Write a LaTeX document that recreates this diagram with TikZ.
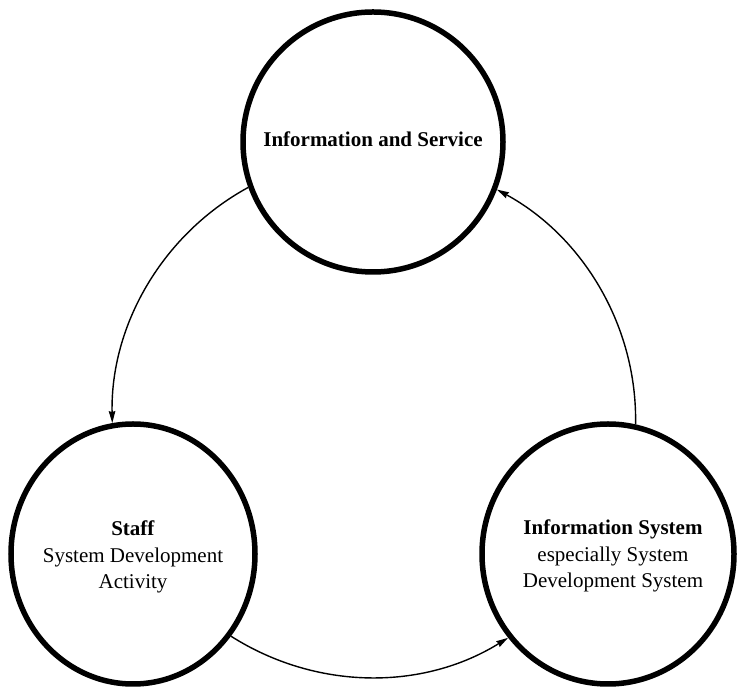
\documentclass[tikz,border=0pt]{standalone}
\usepackage{fontspec}
\setmainfont{Liberation Serif}
\usetikzlibrary{arrows.meta,shapes.geometric}
\begin{document}
\begin{tikzpicture}[x=1pt,y=1pt,
  ring/.style={draw=black, line width=5.5pt, ellipse, inner sep=0pt},
  caption/.style={align=center, font=\fontsize{21}{26.5}\selectfont, inner sep=0pt},
  flow/.style={draw=black, line width=1.4pt, -{Stealth[length=12pt,width=6.5pt,inset=1pt]}},
]
\useasboundingbox (0,0) rectangle (739,690);

% the three entities
\node[ring, minimum width=260pt, minimum height=260pt] (info) at (373,548) {};
\node[ring, minimum width=244pt, minimum height=260pt] (staff) at (133,136) {};
\node[ring, minimum width=252pt, minimum height=260pt] (system) at (608,136) {};

% their captions
\node[caption, anchor=base] (info-label) at (373,543) {\bfseries Information and Service};
\node[caption] (staff-label) at (133,133) {\textbf{Staff}\\System Development\\Activity};
\node[caption] (system-label) at (613,134) {\textbf{Information System}\\especially System\\Development System};

% the cycle between them
\draw[flow] (info.200.5) to[out=208.6,in=91.1,looseness=0.92] (staff.99.1);
\draw[flow] (staff.320.3) to[out=327.6,in=211.8,looseness=0.93] (system.220.6);
\draw[flow] (system.78.8) to[out=88.9,in=331.4,looseness=0.92] (info.339.2);
\end{tikzpicture}
\end{document}
